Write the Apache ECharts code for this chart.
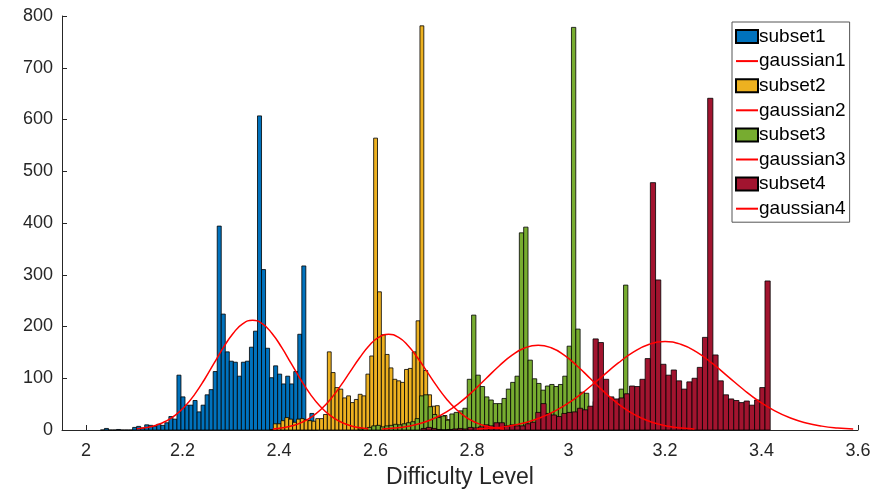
<!DOCTYPE html>
<html>
<head>
<meta charset="utf-8">
<script src="https://cdn.jsdelivr.net/npm/echarts@6/dist/echarts.min.js"></script>
<style>html,body{margin:0;padding:0;background:#fff}#c{width:879px;height:493px}</style>
</head>
<body>
<div id="c"></div>
<script>
// ---- data ----
const xTicks = [2, 2.2, 2.4, 2.6, 2.8, 3, 3.2, 3.4, 3.6];
const yTicks = [0, 100, 200, 300, 400, 500, 600, 700, 800];

const subset1Start = 2.0296, subset1Width = 0.00835;
const subset1 = [0,3,0,0,1,0,0,0,5,7,4,10,9,7,11,9,14,26,21,106,64,48,48,57,35,48,68,78,113,394,224,151,133,131,104,131,133,160,191,607,310,158,101,124,108,89,104,89,113,185,317,18,32,6];

const subset2Start = 2.38, subset2Width = 0.008;
const subset2 = [1,12,12,18,24,21,15,21,22,20,18,17,22,22,30,151,111,82,79,62,66,53,59,69,66,108,143,564,267,184,146,120,98,95,92,117,119,151,211,781,115,68,46,47,26,28,20,15,10,5,3];

const subset3Start = 2.565, subset3Width = 0.009;
const subset3 = [2,3,5,8,9,6,8,9,11,10,12,14,16,22,66,68,45,30,24,27,19,31,34,37,42,98,222,106,84,64,58,51,51,61,79,92,104,381,392,135,99,90,77,85,88,84,88,104,162,778,195,73,71,44,55,60,58,52,50,55,79,280,30,20,10,5,2];

const subset4Start = 2.6944, subset4Width = 0.0108;
const subset4 = [3,5,3,1,0,1,2,3,2,5,4,6,10,8,14,14,8,10,8,8,12,15,34,51,32,29,26,32,34,35,42,39,46,176,169,98,64,60,62,70,85,84,98,138,478,290,127,106,116,95,79,93,100,121,179,641,145,95,68,60,57,53,56,48,58,82,288];

const gauss1X = [2.105,2.125,2.145,2.165,2.185,2.205,2.225,2.245,2.265,2.285,2.305,2.325,2.345,2.365,2.385,2.405,2.425,2.445,2.465,2.485,2.505,2.525,2.545,2.565,2.585];
const gauss1Y = [2.4,4.8,9.3,16.9,28.7,45.9,68.8,97.1,128.6,160.0,187.1,205.5,212,205.5,187.1,160.0,128.6,97.1,68.8,45.9,28.7,16.9,9.3,4.8,2.4];
const gauss2X = [2.387,2.407,2.427,2.447,2.467,2.487,2.507,2.527,2.547,2.567,2.587,2.607,2.627,2.647,2.667,2.687,2.707,2.727,2.747,2.767,2.787,2.807,2.827,2.847,2.867];
const gauss2Y = [2.1,4.2,8.1,14.7,25.0,40.0,60.1,84.7,112.2,139.6,163.3,179.3,185,179.3,163.3,139.6,112.2,84.7,60.1,40.0,25.0,14.7,8.1,4.2,2.1];
const gauss3X = [2.613,2.640,2.667,2.694,2.721,2.748,2.775,2.802,2.829,2.856,2.883,2.910,2.937,2.964,2.991,3.018,3.045,3.072,3.099,3.126,3.153,3.180,3.207,3.234,3.261];
const gauss3Y = [1.8,3.7,7.2,13.1,22.2,35.5,53.3,75.1,99.5,123.8,144.7,158.9,164,158.9,144.7,123.8,99.5,75.1,53.3,35.5,22.2,13.1,7.2,3.7,1.8];
const gauss4X = [2.81,2.8425,2.875,2.9075,2.94,2.9725,3.005,3.0375,3.07,3.1025,3.135,3.1675,3.2,3.2325,3.265,3.2975,3.33,3.3625,3.395,3.4275,3.46,3.4925,3.525,3.5575,3.59];
const gauss4Y = [1.9,3.9,7.5,13.6,23.1,37.0,55.5,78.3,103.7,129.1,150.9,165.7,171,165.7,150.9,129.1,103.7,78.3,55.5,37.0,23.1,13.6,7.5,3.9,1.9];

// ---- build ----
function bins(start, width, counts) {
  return counts.map((c, i) => [start + i * width, start + (i + 1) * width, c]);
}
function pairs(xs, ys) { return xs.map((x, i) => [x, ys[i]]); }

const colors = ['#0072BD', '#EDB120', '#77AC30', '#A2142F'];
function histSeries(name, data, color) {
  return {
    name: name, type: 'custom', data: data,
    encode: { x: [0, 1], y: 2 },
    itemStyle: { color: color, borderColor: '#000', borderWidth: 1 },
    renderItem: function (params, api) {
      const p0 = api.coord([api.value(0), api.value(2)]);
      const p1 = api.coord([api.value(1), 0]);
      return {
        type: 'rect',
        shape: { x: p0[0], y: p0[1], width: p1[0] - p0[0], height: p1[1] - p0[1] },
        style: { fill: color, stroke: '#000', lineWidth: 0.8 }
      };
    },
    z: 2
  };
}
function lineSeries(name, data) {
  return {
    name: name, type: 'line', data: data, smooth: true, symbol: 'none',
    lineStyle: { color: '#FF0000', width: 1.5 }, itemStyle: { color: '#FF0000' }, z: 5
  };
}
function lineLegend(name) {
  return { name: name, itemStyle: { opacity: 0, borderWidth: 0 } };
}

const font = 'Liberation Sans, Arial, Helvetica, sans-serif';
const chart = echarts.init(document.getElementById('c'), null, { renderer: 'canvas' });
chart.setOption({
  animation: false,
  backgroundColor: '#fff',
  textStyle: { fontFamily: font },
  grid: { left: 62, right: 21, top: 16, bottom: 63, containLabel: false, outerBoundsMode: 'none' },
  xAxis: {
    type: 'value', min: 1.95, max: 3.6,
    name: 'Difficulty Level', nameLocation: 'middle', nameGap: 36,
    nameTextStyle: { fontSize: 23, color: '#262626', fontFamily: font },
    axisLine: { lineStyle: { color: '#262626', width: 1 } },
    axisTick: { inside: true, length: 5, lineStyle: { color: '#262626' }, customValues: xTicks },
    axisLabel: { customValues: xTicks, fontSize: 18, color: '#262626', margin: 12, formatter: v => String(v) },
    splitLine: { show: false }
  },
  yAxis: {
    type: 'value', min: 0, max: 800, interval: 100,
    axisLine: { show: true, lineStyle: { color: '#262626', width: 1 } },
    axisTick: { show: true, inside: true, length: 5, lineStyle: { color: '#262626' } },
    axisLabel: { fontSize: 18, color: '#262626', margin: 9 },
    splitLine: { show: false }
  },
  legend: {
    orient: 'vertical', left: 732, top: 22,
    backgroundColor: '#fff', borderColor: '#555', borderWidth: 1,
    padding: [5, 4, 4, 3], itemGap: 5.6, itemWidth: 22, itemHeight: 13,
    textStyle: { fontSize: 19, color: '#000', fontFamily: font, padding: [0, 0, 0, -4] },
    data: [
      { name: 'subset1', icon: 'rect' }, lineLegend('gaussian1'),
      { name: 'subset2', icon: 'rect' }, lineLegend('gaussian2'),
      { name: 'subset3', icon: 'rect' }, lineLegend('gaussian3'),
      { name: 'subset4', icon: 'rect' }, lineLegend('gaussian4')
    ]
  },
  series: [
    histSeries('subset1', bins(subset1Start, subset1Width, subset1), colors[0]),
    lineSeries('gaussian1', pairs(gauss1X, gauss1Y)),
    histSeries('subset2', bins(subset2Start, subset2Width, subset2), colors[1]),
    lineSeries('gaussian2', pairs(gauss2X, gauss2Y)),
    histSeries('subset3', bins(subset3Start, subset3Width, subset3), colors[2]),
    lineSeries('gaussian3', pairs(gauss3X, gauss3Y)),
    histSeries('subset4', bins(subset4Start, subset4Width, subset4), colors[3]),
    lineSeries('gaussian4', pairs(gauss4X, gauss4Y))
  ]
});
</script>
</body>
</html>
